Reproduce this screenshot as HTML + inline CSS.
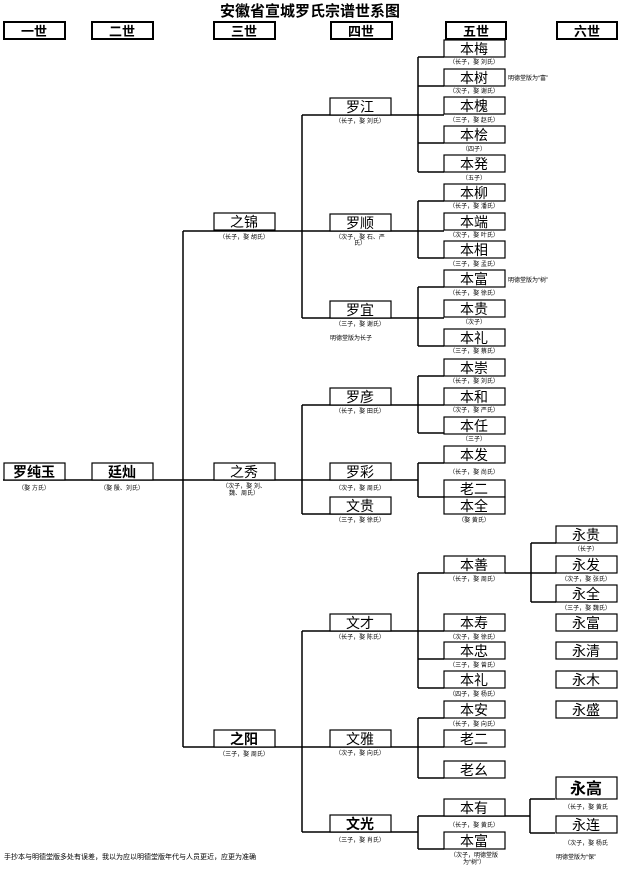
<!DOCTYPE html>
<html><head><meta charset="utf-8"><style>
body{margin:0;background:#fff}
svg{display:block}
.b{fill:#fff;stroke:#000;stroke-width:1.2}
.h{fill:#fff;stroke:#000;stroke-width:2}
.t{font-family:"Liberation Sans","Noto Sans CJK SC",sans-serif;font-size:14px;text-anchor:middle;fill:#000}
.s{font-family:"Liberation Sans","Noto Sans CJK SC",sans-serif;font-size:6px;text-anchor:middle;fill:#000}
.n{font-family:"Liberation Sans","Noto Sans CJK SC",sans-serif;font-size:6px;fill:#000}
.l{stroke:#000;stroke-width:1.5;fill:none}
</style></head><body>
<svg width="619" height="869" viewBox="0 0 619 869" xmlns="http://www.w3.org/2000/svg">
<text x="310" y="16" class="t" style="font-size:15px;font-weight:bold">安徽省宣城罗氏宗谱世系图</text>
<!-- headers -->
<g>
<rect class="h" x="4" y="22" width="61" height="17"/><text class="t" x="34" y="36" style="font-weight:bold;font-size:13px">一世</text>
<rect class="h" x="92" y="22" width="61" height="17"/><text class="t" x="122" y="36" style="font-weight:bold;font-size:13px">二世</text>
<rect class="h" x="214" y="22" width="61" height="17"/><text class="t" x="244" y="36" style="font-weight:bold;font-size:13px">三世</text>
<rect class="h" x="331" y="22" width="61" height="17"/><text class="t" x="361" y="36" style="font-weight:bold;font-size:13px">四世</text>
<rect class="h" x="446" y="22" width="60" height="17"/><text class="t" x="476" y="36" style="font-weight:bold;font-size:13px">五世</text>
<rect class="h" x="557" y="22" width="60" height="17"/><text class="t" x="587" y="36" style="font-weight:bold;font-size:13px">六世</text>
</g>
<!-- lines -->
<g class="l">
<path d="M3 480H418"/>
<path d="M183 231V747"/>
<path d="M183 231H444"/>
<path d="M183 747H302"/>
<path d="M302 115V318"/>
<path d="M302 115H444"/>
<path d="M302 318H444"/>
<path d="M302 405V514"/>
<path d="M302 405H444"/>
<path d="M302 514H391"/>
<path d="M302 631V832"/>
<path d="M302 631H444"/>
<path d="M302 747H418"/>
<path d="M302 832H418"/>
<!-- col5 verticals -->
<path d="M418 57V172M418 57H444M418 86H444M418 143H444M418 172H444"/>
<path d="M418 201V258M418 201H444M418 258H444"/>
<path d="M418 287V346M418 287H444M418 346H444"/>
<path d="M418 376V433M418 376H444M418 433H444"/>
<path d="M418 463V497M418 463H444M418 497H444"/>
<path d="M418 573V688M418 573H444M418 659H444M418 688H444"/>
<path d="M418 718V778M418 718H444M418 747H444M418 778H444"/>
<path d="M418 816V849M418 816H530M418 849H444"/>
<path d="M531 543V602M505 573H556M531 543H556M531 602H556"/>
<path d="M530 799V833M530 799H555M530 833H555"/>
</g>
<!-- boxes -->
<g>
<rect class="b" x="4" y="463" width="61" height="17"/><text class="t" x="34" y="477" style="font-weight:bold">罗纯玉</text>
<text class="s" x="34" y="490">（娶 方氏）</text>
<rect class="b" x="92" y="463" width="61" height="17"/><text class="t" x="122" y="477" style="font-weight:bold">廷灿</text>
<text class="s" x="122" y="490">（娶 殷、刘氏）</text>

<rect class="b" x="214" y="213" width="61" height="17"/><text class="t" x="244" y="227">之锦</text>
<text class="s" x="244" y="239">（长子，娶 胡氏）</text>
<rect class="b" x="214" y="463" width="61" height="17"/><text class="t" x="244" y="477">之秀</text>
<text class="s" x="244" y="488">（次子，娶 刘、</text><text class="s" x="244" y="495">魏、周氏）</text>
<rect class="b" x="214" y="730" width="61" height="17"/><text class="t" x="244" y="744" style="font-weight:bold">之阳</text>
<text class="s" x="244" y="756">（三子，娶 周氏）</text>

<rect class="b" x="330" y="98" width="61" height="17"/><text class="t" x="360" y="112">罗江</text>
<text class="s" x="360" y="123">（长子，娶 刘氏）</text>
<rect class="b" x="330" y="214" width="61" height="17"/><text class="t" x="360" y="228">罗顺</text>
<text class="s" x="360" y="239">（次子，娶 石、严</text><text class="s" x="360" y="245">氏）</text>
<rect class="b" x="330" y="301" width="61" height="17"/><text class="t" x="360" y="315">罗宜</text>
<text class="s" x="360" y="326">（三子，娶 谢氏）</text>
<text class="n" x="330" y="340">明德堂版为长子</text>
<rect class="b" x="330" y="388" width="61" height="17"/><text class="t" x="360" y="402">罗彦</text>
<text class="s" x="360" y="413">（长子，娶 田氏）</text>
<rect class="b" x="330" y="463" width="61" height="17"/><text class="t" x="360" y="477">罗彩</text>
<text class="s" x="360" y="490">（次子，娶 周氏）</text>
<rect class="b" x="330" y="497" width="61" height="17"/><text class="t" x="360" y="511">文贵</text>
<text class="s" x="360" y="522">（三子，娶 徐氏）</text>
<rect class="b" x="330" y="614" width="61" height="17"/><text class="t" x="360" y="628">文才</text>
<text class="s" x="360" y="639">（长子，娶 陈氏）</text>
<rect class="b" x="330" y="730" width="61" height="17"/><text class="t" x="360" y="744">文雅</text>
<text class="s" x="360" y="755">（次子，娶 向氏）</text>
<rect class="b" x="330" y="815" width="61" height="17"/><text class="t" x="360" y="829" style="font-weight:bold">文光</text>
<text class="s" x="360" y="842">（三子，娶 肖氏）</text>

<!-- col5 -->
<rect class="b" x="444" y="40" width="61" height="17"/><text class="t" x="474" y="54">本梅</text>
<text class="s" x="474" y="64">（长子，娶 刘氏）</text>
<rect class="b" x="444" y="69" width="61" height="17"/><text class="t" x="474" y="83">本树</text>
<text class="s" x="474" y="93">（次子，娶 谢氏）</text>
<text class="n" x="508" y="80">明德堂版为“富”</text>
<rect class="b" x="444" y="97" width="61" height="17"/><text class="t" x="474" y="111">本槐</text>
<text class="s" x="474" y="122">（三子，娶 赵氏）</text>
<rect class="b" x="444" y="126" width="61" height="17"/><text class="t" x="474" y="140">本桧</text>
<text class="s" x="474" y="151">（四子）</text>
<rect class="b" x="444" y="155" width="61" height="17"/><text class="t" x="474" y="169">本発</text>
<text class="s" x="474" y="180">（五子）</text>
<rect class="b" x="444" y="184" width="61" height="17"/><text class="t" x="474" y="198">本柳</text>
<text class="s" x="474" y="208">（长子，娶 潘氏）</text>
<rect class="b" x="444" y="213" width="61" height="17"/><text class="t" x="474" y="227">本端</text>
<text class="s" x="474" y="237">（次子，娶 叶氏）</text>
<rect class="b" x="444" y="241" width="61" height="17"/><text class="t" x="474" y="255">本相</text>
<text class="s" x="474" y="266">（三子，娶 孟氏）</text>
<rect class="b" x="444" y="270" width="61" height="17"/><text class="t" x="474" y="284">本富</text>
<text class="n" x="508" y="282">明德堂版为“树”</text>
<text class="s" x="474" y="295">（长子，娶 徐氏）</text>
<rect class="b" x="444" y="300" width="61" height="17"/><text class="t" x="474" y="314">本贵</text>
<text class="s" x="474" y="324">（次子）</text>
<rect class="b" x="444" y="329" width="61" height="17"/><text class="t" x="474" y="343">本礼</text>
<text class="s" x="474" y="353">（三子，娶 蔡氏）</text>
<rect class="b" x="444" y="359" width="61" height="17"/><text class="t" x="474" y="373">本崇</text>
<text class="s" x="474" y="383">（长子，娶 刘氏）</text>
<rect class="b" x="444" y="388" width="61" height="17"/><text class="t" x="474" y="402">本和</text>
<text class="s" x="474" y="412">（次子，娶 严氏）</text>
<rect class="b" x="444" y="417" width="61" height="17"/><text class="t" x="474" y="431">本任</text>
<text class="s" x="474" y="441">（三子）</text>
<rect class="b" x="444" y="446" width="61" height="17"/><text class="t" x="474" y="460">本发</text>
<text class="s" x="474" y="474">（长子，娶 尚氏）</text>
<rect class="b" x="444" y="480" width="61" height="17"/><text class="t" x="474" y="494">老二</text>
<rect class="b" x="444" y="497" width="61" height="17"/><text class="t" x="474" y="511">本全</text>
<text class="s" x="474" y="522">（娶 黄氏）</text>
<rect class="b" x="444" y="556" width="61" height="17"/><text class="t" x="474" y="570">本善</text>
<text class="s" x="474" y="581">（长子，娶 周氏）</text>
<rect class="b" x="444" y="614" width="61" height="17"/><text class="t" x="474" y="628">本寿</text>
<text class="s" x="474" y="639">（次子，娶 徐氏）</text>
<rect class="b" x="444" y="642" width="61" height="17"/><text class="t" x="474" y="656">本忠</text>
<text class="s" x="474" y="667">（三子，娶 曾氏）</text>
<rect class="b" x="444" y="671" width="61" height="17"/><text class="t" x="474" y="685">本礼</text>
<text class="s" x="474" y="696">（四子，娶 杨氏）</text>
<rect class="b" x="444" y="701" width="61" height="17"/><text class="t" x="474" y="715">本安</text>
<text class="s" x="474" y="726">（长子，娶 向氏）</text>
<rect class="b" x="444" y="730" width="61" height="17"/><text class="t" x="474" y="744">老二</text>
<rect class="b" x="444" y="761" width="61" height="17"/><text class="t" x="474" y="775">老幺</text>
<rect class="b" x="444" y="799" width="61" height="17"/><text class="t" x="474" y="813">本有</text>
<text class="s" x="474" y="827">（长子，娶 黄氏）</text>
<rect class="b" x="444" y="832" width="61" height="17"/><text class="t" x="474" y="846">本富</text>
<text class="s" x="474" y="857">（次子，明德堂版</text><text class="s" x="474" y="864">为“树”）</text>

<!-- col6 -->
<rect class="b" x="556" y="526" width="61" height="17"/><text class="t" x="586" y="540">永贵</text>
<text class="s" x="586" y="551">（长子）</text>
<rect class="b" x="556" y="556" width="61" height="17"/><text class="t" x="586" y="570">永发</text>
<text class="s" x="586" y="581">（次子，娶 张氏）</text>
<rect class="b" x="556" y="585" width="61" height="17"/><text class="t" x="586" y="599">永全</text>
<text class="s" x="586" y="610">（三子，娶 魏氏）</text>
<rect class="b" x="556" y="614" width="61" height="17"/><text class="t" x="586" y="628">永富</text>
<rect class="b" x="556" y="642" width="61" height="17"/><text class="t" x="586" y="656">永清</text>
<rect class="b" x="556" y="671" width="61" height="17"/><text class="t" x="586" y="685">永木</text>
<rect class="b" x="556" y="701" width="61" height="17"/><text class="t" x="586" y="715">永盛</text>
<rect class="b" x="556" y="777" width="61" height="22"/><text class="t" x="586" y="794" style="font-weight:bold;font-size:16px">永高</text>
<text class="s" x="586" y="809">（长子，娶 黄氏</text>
<rect class="b" x="556" y="816" width="61" height="17"/><text class="t" x="586" y="830">永连</text>
<text class="s" x="586" y="845">（次子，娶 杨氏</text>
<text class="n" x="556" y="859">明德堂版为“保”</text>

<text class="n" x="4" y="859" style="font-size:7px">手抄本与明德堂版多处有误差，我以为应以明德堂版年代与人员更近，应更为准确</text>
</g>
</svg>
</body></html>
